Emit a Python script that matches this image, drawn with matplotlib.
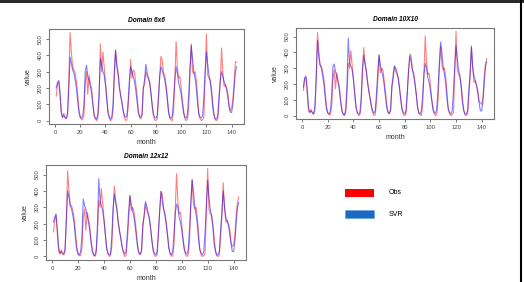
#!/usr/bin/env python3
import matplotlib
matplotlib.use('Agg')
import matplotlib.pyplot as plt
from matplotlib.patches import Rectangle
from matplotlib.lines import Line2D

plt.rcParams['font.family'] = ['Liberation Sans', 'DejaVu Sans']

months = list(range(1, 145))
titles = ['Domain 6x6', 'Domain 10X10', 'Domain 12x12']
xticks = [0, 20, 40, 60, 80, 100, 120, 140]
yticks = [0, 100, 200, 300, 400, 500]
legend_labels = ['Obs', 'SVR']

obs_6x6 = [
    150, 220, 240, 150, 40, 20, 45, 15, 10, 30, 250, 540,
    420, 330, 310, 290, 240, 160, 70, 25, 5, 5, 40, 230,
    300, 160, 280, 230, 200, 110, 40, 10, 0, 20, 130, 470,
    300, 420, 330, 240, 150, 60, 20, 0, 5, 60, 250, 435,
    350, 300, 220, 150, 120, 70, 20, 0, 5, 80, 210, 375,
    260, 310, 300, 230, 160, 70, 20, 10, 30, 200, 220, 300,
    270, 260, 240, 180, 90, 30, 5, 0, 10, 120, 280, 395,
    370, 290, 280, 220, 150, 60, 15, 5, 0, 60, 260, 485,
    330, 260, 270, 200, 120, 60, 10, 0, 10, 90, 300, 470,
    300, 290, 300, 250, 150, 40, 10, 0, 5, 20, 270, 530,
    280, 260, 250, 200, 110, 40, 5, 0, 10, 120, 240, 445,
    300, 210, 220, 200, 170, 90, 60, 80, 130, 250, 360, 360]
svr_6x6 = [
    200, 235, 245, 180, 60, 20, 30, 20, 15, 50, 200, 390,
    350, 310, 290, 250, 200, 120, 50, 20, 15, 30, 100, 300,
    340, 270, 250, 210, 170, 100, 30, 15, 10, 40, 180, 380,
    340, 300, 280, 220, 130, 50, 20, 10, 20, 100, 300, 430,
    330, 280, 200, 160, 110, 60, 30, 20, 30, 120, 250, 330,
    300, 270, 240, 190, 120, 50, 25, 20, 40, 200, 250, 345,
    300, 260, 230, 170, 100, 40, 20, 15, 30, 150, 270, 330,
    310, 280, 250, 200, 130, 50, 20, 15, 30, 130, 250, 330,
    290, 230, 200, 160, 100, 40, 20, 15, 40, 160, 320, 460,
    380, 300, 260, 200, 100, 40, 20, 15, 30, 150, 300, 420,
    350, 280, 240, 170, 80, 30, 10, 10, 30, 150, 250, 300,
    270, 240, 220, 190, 140, 80, 50, 50, 100, 200, 300, 330]

obs_10x10 = [
    160, 230, 240, 140, 30, 20, 40, 15, 10, 30, 260, 525,
    410, 320, 310, 280, 230, 150, 60, 20, 5, 5, 50, 220,
    290, 170, 270, 220, 190, 100, 40, 10, 0, 20, 140, 330,
    300, 410, 320, 230, 140, 60, 20, 0, 5, 60, 260, 430,
    340, 290, 220, 150, 110, 60, 20, 0, 5, 90, 220, 380,
    270, 300, 290, 220, 150, 70, 20, 10, 30, 190, 230, 310,
    280, 260, 240, 170, 90, 30, 5, 0, 10, 130, 290, 390,
    380, 290, 270, 210, 140, 60, 15, 5, 0, 70, 270, 505,
    340, 260, 270, 200, 110, 50, 10, 0, 10, 100, 300, 440,
    320, 290, 300, 240, 140, 40, 10, 0, 5, 20, 280, 533,
    290, 260, 250, 200, 110, 40, 5, 0, 10, 120, 250, 430,
    310, 210, 220, 190, 160, 90, 80, 70, 120, 250, 330, 360]
svr_10x10 = [
    180, 240, 250, 170, 50, 20, 30, 20, 10, 60, 230, 475,
    370, 320, 300, 250, 200, 110, 40, 15, 10, 30, 120, 310,
    326, 280, 250, 210, 160, 90, 30, 10, 5, 40, 200, 490,
    330, 310, 290, 230, 140, 50, 20, 10, 15, 110, 290, 380,
    330, 280, 210, 160, 110, 60, 30, 15, 30, 140, 280, 385,
    320, 280, 250, 190, 120, 50, 20, 15, 40, 180, 260, 315,
    300, 270, 230, 170, 100, 40, 20, 10, 30, 150, 280, 375,
    340, 290, 250, 200, 130, 50, 20, 10, 30, 130, 260, 330,
    300, 240, 210, 160, 100, 40, 20, 15, 40, 170, 330, 465,
    400, 310, 260, 200, 100, 40, 20, 10, 30, 150, 310, 440,
    360, 290, 250, 180, 80, 30, 10, 10, 30, 160, 270, 440,
    300, 250, 220, 190, 140, 80, 30, 30, 90, 200, 310, 340]

obs_12x12 = [
    150, 220, 250, 140, 30, 15, 40, 15, 10, 30, 250, 523,
    400, 310, 310, 280, 230, 150, 60, 20, 5, 5, 50, 230,
    290, 160, 270, 230, 190, 100, 40, 10, 0, 20, 140, 340,
    300, 414, 320, 230, 140, 60, 20, 0, 5, 60, 260, 428,
    340, 290, 210, 150, 110, 60, 20, 0, 5, 90, 210, 373,
    280, 300, 280, 220, 150, 70, 20, 10, 30, 200, 240, 320,
    280, 260, 240, 170, 90, 30, 5, 0, 10, 130, 290, 397,
    380, 290, 270, 210, 140, 60, 15, 5, 0, 70, 280, 506,
    340, 260, 270, 200, 110, 50, 10, 0, 10, 100, 300, 465,
    320, 290, 300, 240, 140, 40, 10, 0, 5, 20, 280, 537,
    290, 260, 250, 200, 110, 40, 5, 0, 10, 120, 250, 450,
    300, 210, 220, 200, 170, 90, 60, 70, 130, 250, 330, 363]
svr_12x12 = [
    210, 240, 260, 170, 60, 20, 30, 20, 15, 50, 220, 400,
    360, 310, 290, 250, 200, 110, 40, 15, 10, 30, 120, 350,
    310, 290, 250, 210, 160, 90, 30, 10, 5, 40, 200, 475,
    340, 310, 280, 220, 140, 50, 20, 10, 15, 110, 290, 380,
    330, 280, 210, 160, 110, 60, 30, 15, 30, 140, 270, 370,
    320, 280, 250, 190, 120, 50, 20, 15, 40, 180, 260, 336,
    310, 270, 230, 170, 100, 40, 20, 10, 30, 150, 280, 397,
    340, 290, 250, 200, 130, 50, 20, 10, 30, 130, 260, 320,
    300, 240, 210, 160, 100, 40, 20, 15, 40, 170, 330, 470,
    400, 310, 260, 200, 100, 40, 20, 10, 30, 150, 310, 465,
    360, 290, 250, 180, 80, 30, 10, 10, 30, 160, 270, 400,
    300, 240, 220, 190, 140, 80, 30, 30, 90, 200, 300, 330]

obs_all = [obs_6x6, obs_10x10, obs_12x12]
svr_all = [svr_6x6, svr_10x10, svr_12x12]

# axes boxes in figure fractions (left, bottom, width, height)
boxes = [
    [0.0935, 0.560, 0.372, 0.337],
    [0.565, 0.578, 0.378, 0.323],
    [0.0878, 0.078, 0.382, 0.337],
]

fig = plt.figure(figsize=(5.24, 2.82), dpi=100)

for box, title, obs, svr in zip(boxes, titles, obs_all, svr_all):
    ax = fig.add_axes(box)
    ax.plot(months, obs, color=(1, 0, 0, 0.5), lw=0.8)
    ax.plot(months, svr, color=(0, 0, 1, 0.5), lw=0.8)
    ax.margins(x=0.04, y=0.04)
    ax.set_xticks(xticks)
    ax.set_yticks(yticks)
    ax.set_yticklabels([str(v) for v in yticks], rotation=90, va='center')
    ax.tick_params(labelsize=4.2, length=2.5, width=0.5, pad=2, colors='#444444')
    for s in ax.spines.values():
        s.set_color('#777777')
        s.set_linewidth(0.8)
    ax.set_title(title, fontsize=4.8, fontweight='bold', style='italic', pad=5)
    ax.set_xlabel('month', fontsize=5, color='#333333', labelpad=3)
    ax.set_ylabel('value', fontsize=5, color='#333333', labelpad=4)

# legend in the empty lower right cell
W, H = 524., 282.
fig.add_artist(Rectangle((345 / W, 1 - 197 / H), 29 / W, 8 / H, transform=fig.transFigure,
                         facecolor='#ff0000', edgecolor='none'))
fig.add_artist(Rectangle((345 / W, 1 - 218 / H), 29 / W, 8 / H, transform=fig.transFigure,
                         facecolor='#1b68c0', edgecolor='#6aaae0', lw=0.5))
fig.text(389 / W, 1 - 193 / H, legend_labels[0], fontsize=5, va='center')
fig.text(389 / W, 1 - 214 / H, legend_labels[1], fontsize=5, va='center')

# screenshot frame: dark strip on top, black line on the right
fig.add_artist(Rectangle((0, 1 - 2.5 / H), 1, 2.5 / H, transform=fig.transFigure,
                         facecolor='#2a2a2a', edgecolor='none'))
fig.add_artist(Line2D([520.5 / W, 520.5 / W], [0, 1], transform=fig.transFigure,
                      color='black', lw=1.5))

fig.savefig('out.png', dpi=100)
